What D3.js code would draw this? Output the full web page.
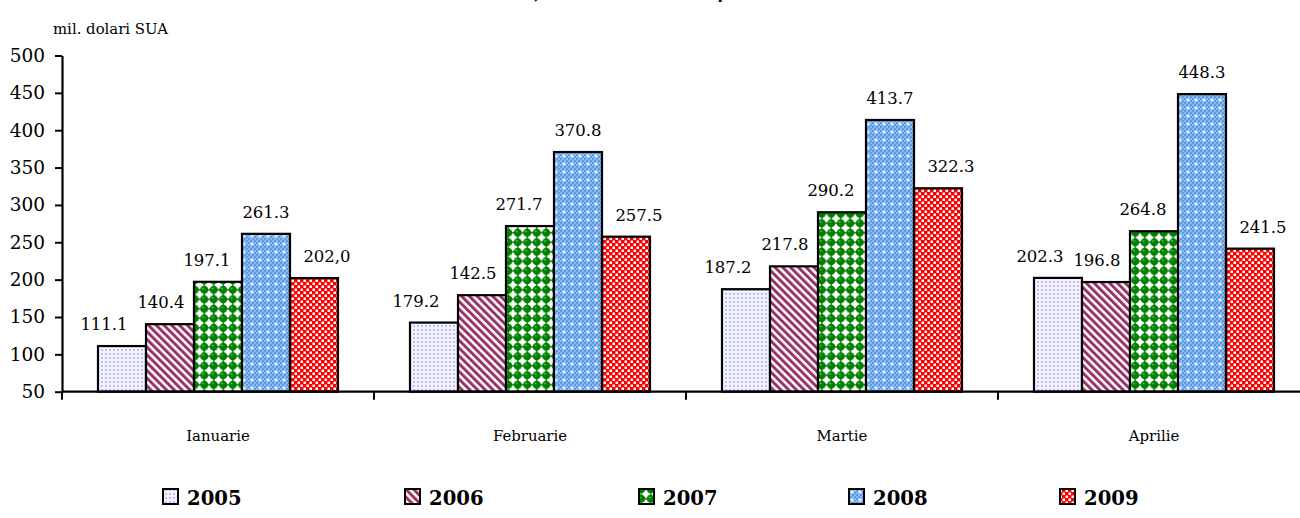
<!DOCTYPE html>
<html><head><meta charset="utf-8">
<script src="https://cdn.jsdelivr.net/npm/d3@7"></script>
<style>
html,body{margin:0;padding:0;background:#fff;}
svg{display:block;}
</style></head>
<body><svg id="c" width="1300" height="518"></svg>
<script>
// ---- data ----
const months = ["Ianuarie", "Februarie", "Martie", "Aprilie"];
const years = ["2005", "2006", "2007", "2008", "2009"];
const v2005 = [111.1, 142.5, 187.2, 202.3];
const v2006 = [140.4, 179.2, 217.8, 196.8];
const v2007 = [197.1, 271.7, 290.2, 264.8];
const v2008 = [261.3, 370.8, 413.7, 448.3];
const v2009 = [202.0, 257.5, 322.3, 241.5];
const lab2005 = ["111.1", "179.2", "187.2", "202.3"];
const lab2006 = ["140.4", "142.5", "217.8", "196.8"];
const lab2007 = ["197.1", "271.7", "290.2", "264.8"];
const lab2008 = ["261.3", "370.8", "413.7", "448.3"];
const lab2009 = ["202,0", "257.5", "322.3", "241.5"];
const yTicks = [50, 100, 150, 200, 250, 300, 350, 400, 450, 500];
const unitLabel = "mil. dolari SUA";

const seriesVals = [v2005, v2006, v2007, v2008, v2009];
const seriesLabs = [lab2005, lab2006, lab2007, lab2008, lab2009];

// ---- layout / style ----
const FONT = "DejaVu Serif";
const svg = d3.select("#c");

// calibrate font size so digit widths match Times-like metrics (0.5em)
const probe = svg.append("text").style("font-family", FONT).style("font-size", "20px").text("0123456789");
const measured = probe.node().getComputedTextLength();
probe.remove();
const k = measured > 0 ? Math.min(1, 100 / measured) : 1;
const fs = (s) => (s * k).toFixed(1) + "px";

const plotL = 62, plotR = 1310, plotT = 55.5, plotB = 391.7;
const labelShift = [-18, -9, -11, 0, 13];
const legendX = [163, 405, 639, 849, 1060];

const x0 = d3.scaleBand().domain(months).range([plotL, plotR]).padding(0);
const x1 = d3.scaleBand().domain(years).range([36, 276]).padding(0);
const y = d3.scaleLinear().domain([50, 500]).range([plotB, plotT]);

// patterns
const defs = svg.append("defs");
let p = defs.append("pattern").attr("id", "p2005").attr("patternUnits", "userSpaceOnUse").attr("width", 4).attr("height", 4);
p.append("rect").attr("width", 4).attr("height", 4).attr("fill", "#f4f4ff");
p.append("rect").attr("x", 1).attr("y", 1).attr("width", 2).attr("height", 2).attr("fill", "#bcbcff");
p = defs.append("pattern").attr("id", "p2006").attr("patternUnits", "userSpaceOnUse").attr("width", 5.5).attr("height", 5.5).attr("patternTransform", "rotate(-45)");
p.append("rect").attr("width", 5.5).attr("height", 5.5).attr("fill", "#ffffff");
p.append("rect").attr("width", 3).attr("height", 5.5).attr("fill", "#993366");
p = defs.append("pattern").attr("id", "p2007").attr("patternUnits", "userSpaceOnUse").attr("width", 9.5).attr("height", 9.5);
p.append("rect").attr("width", 9.5).attr("height", 9.5).attr("fill", "#ffffff");
p.append("circle").attr("cx", 4.75).attr("cy", 4.75).attr("r", 4.1).attr("fill", "#008000");
p.append("rect").attr("x", 0).attr("y", 4).attr("width", 9.5).attr("height", 1.5).attr("fill", "#008000");
p.append("rect").attr("x", 4).attr("y", 0).attr("width", 1.5).attr("height", 9.5).attr("fill", "#008000");
p.append("circle").attr("cx", 3.6).attr("cy", 3.4).attr("r", 0.9).attr("fill", "#7fc07f");
p = defs.append("pattern").attr("id", "p2008").attr("patternUnits", "userSpaceOnUse").attr("width", 8).attr("height", 8);
p.append("rect").attr("width", 8).attr("height", 8).attr("fill", "#5b9be6");
for (let i = 0; i < 4; i++) for (let j = 0; j < 4; j++) if ((i + j) % 2 === 0)
  p.append("rect").attr("x", i * 2).attr("y", j * 2).attr("width", 2).attr("height", 2).attr("fill", "#8dbaf0");
p.append("rect").attr("x", 3.5).attr("y", 2).attr("width", 1).attr("height", 4).attr("fill", "#ffffff");
p.append("rect").attr("x", 2).attr("y", 3.5).attr("width", 4).attr("height", 1).attr("fill", "#ffffff");
p = defs.append("pattern").attr("id", "p2009").attr("patternUnits", "userSpaceOnUse").attr("width", 6).attr("height", 6);
p.append("rect").attr("width", 6).attr("height", 6).attr("fill", "#ff0000");
p.append("rect").attr("x", 0.5).attr("y", 0.5).attr("width", 2.5).attr("height", 2.5).attr("fill", "#ffffff");
p.append("rect").attr("x", 3.5).attr("y", 3.5).attr("width", 2.5).attr("height", 2.5).attr("fill", "#ffffff");

// helper: text with explicit style font
function txt(sel, size) {
  return sel.style("font-family", FONT).style("font-size", fs(size)).attr("fill", "#000");
}

// title (cut off at the top, as in the reference)
const title = txt(svg.append("text").attr("y", -1), 20).style("font-weight", "bold").style("font-style", "italic");
title.append("tspan").attr("x", 540).attr("text-anchor", "end").text("Dinamica vânzărilor,");
title.append("tspan").attr("x", 616).attr("text-anchor", "start").text("ianuarie – aprilie");

// unit label
txt(svg.append("text").attr("x", 53).attr("y", 34), 19).text(unitLabel);

// bars
const g = svg.append("g");
years.forEach((yr, si) => {
  const vals = seriesVals[si];
  g.selectAll(".b" + yr).data(months).enter().append("rect")
    .attr("x", (m) => x0(m) + x1(yr))
    .attr("y", (m, i) => y(vals[i]))
    .attr("width", x1.bandwidth())
    .attr("height", (m, i) => y(50) - y(vals[i]))
    .attr("fill", "url(#p" + yr + ")")
    .attr("stroke", "#000").attr("stroke-width", 2.2);
  txt(g.selectAll(".l" + yr).data(months).enter().append("text"), 21)
    .attr("x", (m) => x0(m) + x1(yr) + x1.bandwidth() / 2 + labelShift[si])
    .attr("y", (m, i) => y(vals[i]) - 16)
    .attr("text-anchor", "middle")
    .text((m, i) => seriesLabs[si][i]);
});

// y axis
const ya = svg.append("g").attr("transform", `translate(${plotL},0)`)
  .call(d3.axisLeft(y).tickValues(yTicks).tickSize(7).tickPadding(10).tickSizeOuter(0));
ya.attr("font-family", null).attr("font-size", null);
ya.select(".domain").attr("stroke", "#000").attr("stroke-width", 2.2);
ya.selectAll(".tick line").attr("stroke", "#000").attr("stroke-width", 2);
txt(ya.selectAll(".tick text"), 23.5);

// x axis
const xa = svg.append("g").attr("transform", `translate(0,${plotB})`);
xa.append("line").attr("x1", plotL).attr("x2", plotR).attr("stroke", "#000").attr("stroke-width", 2.2);
xa.selectAll(".xt").data(months).enter().append("line")
  .attr("x1", (m) => x0(m)).attr("x2", (m) => x0(m)).attr("y1", 0).attr("y2", 8)
  .attr("stroke", "#000").attr("stroke-width", 2);
txt(xa.selectAll(".xl").data(months).enter().append("text"), 19)
  .attr("x", (m) => x0(m) + x0.bandwidth() / 2).attr("y", 49)
  .attr("text-anchor", "middle").text((m) => m);

// legend
const lg = svg.append("g");
years.forEach((yr, i) => {
  lg.append("rect").attr("x", legendX[i]).attr("y", 489).attr("width", 15).attr("height", 15)
    .attr("fill", "url(#p" + yr + ")").attr("stroke", "#000").attr("stroke-width", 2);
  txt(lg.append("text").attr("x", legendX[i] + 24).attr("y", 505), 25)
    .style("font-weight", "bold").text(yr);
});
</script></body></html>
